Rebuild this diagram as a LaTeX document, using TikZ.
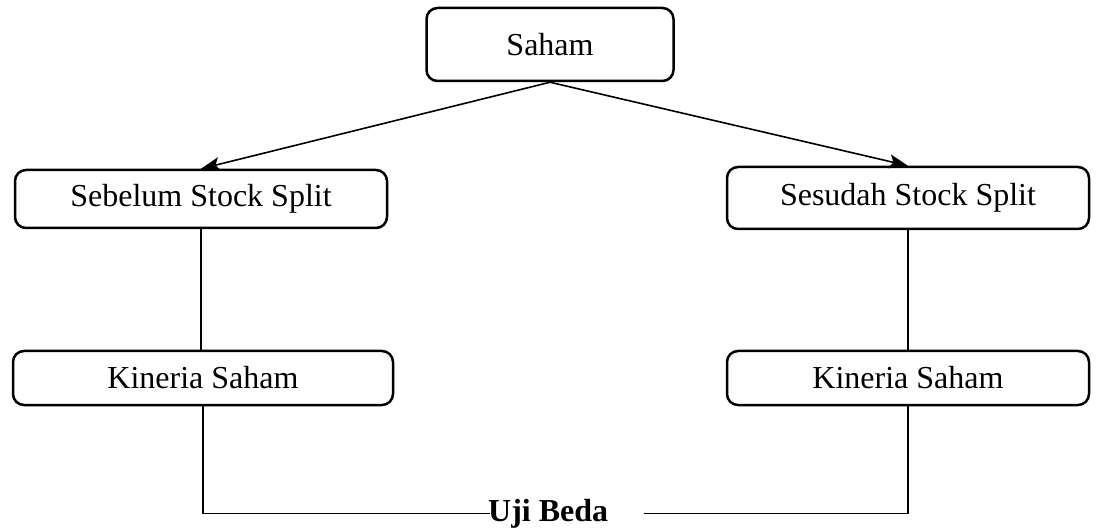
\documentclass[tikz,border=0pt]{standalone}
\usepackage{fontspec}
\setmainfont{Liberation Serif}
\usetikzlibrary{arrows.meta,calc}

\tikzset{
  box/.style={draw=black, line width=2.5pt, rounded corners=11pt, fill=white,
    inner sep=0pt, align=center, font=\fontsize{32}{36}\selectfont},
  link/.style={draw=black, line width=1.6pt},
  arrowlink/.style={link, -{Stealth[length=19pt,width=14pt,inset=4pt]}},
  label/.style={inner sep=0pt, font=\fontsize{32}{36}\selectfont\bfseries}
}

\begin{document}
\begin{tikzpicture}[x=1pt,y=-1pt]
  \useasboundingbox (0,0) rectangle (1098,529);

  % boxes
  \node[box, minimum width=247pt, minimum height=73pt] (saham) at (550,44.5) {Saham};
  \node[box, minimum width=372pt, minimum height=58pt] (sebelum) at (201,199) {Sebelum Stock Split};
  \node[box, minimum width=362pt, minimum height=62pt] (sesudah) at (908,198) {Sesudah Stock Split};
  \node[box, minimum width=380pt, minimum height=54pt] (kinL) at (203,378) {Kineria Saham};
  \node[box, minimum width=362pt, minimum height=54pt] (kinR) at (908,378) {Kineria Saham};

  % label of the joining line
  \node[label, anchor=base west] (uji) at (488,521) {Uji Beda};
  \coordinate (ujiL) at ($(uji.west)+(2,0)$);
  \coordinate (ujiR) at ($(uji.east)+(36,0)$);

  % arrows from the top box
  \draw[arrowlink] (saham.south) -- (sebelum.north);
  \draw[arrowlink] (saham.south) -- (sesudah.north);

  % vertical links
  \draw[link] (sebelum.south) -- (sebelum.south |- kinL.north);
  \draw[link] (sesudah.south) -- (sesudah.south |- kinR.north);

  % bottom joining line
  \draw[link] (kinL.south) |- (ujiL);
  \draw[link] (ujiR) -| (kinR.south);
\end{tikzpicture}
\end{document}
